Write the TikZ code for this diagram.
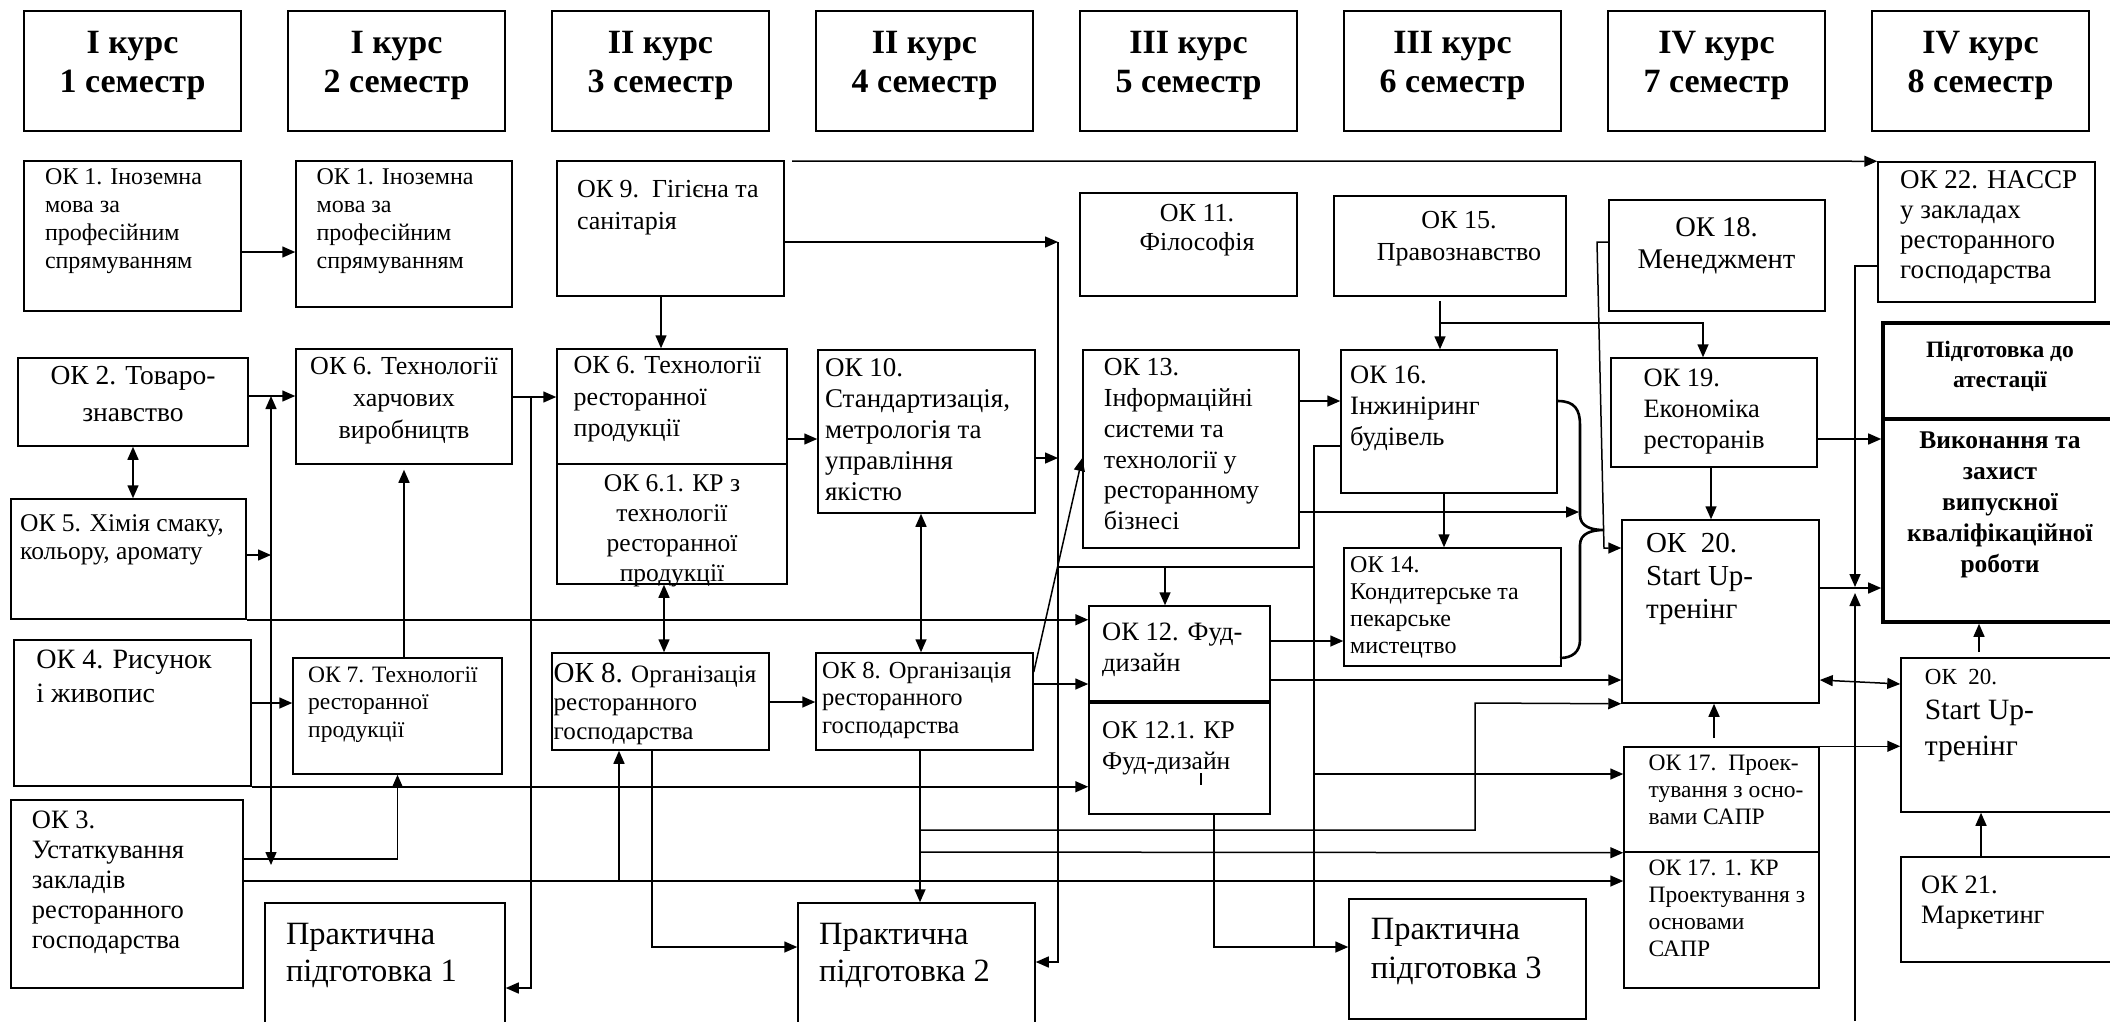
\documentclass[tikz,border=0pt]{standalone}
\usepackage{fontspec}
\setmainfont{Liberation Serif}
\usetikzlibrary{fit,arrows.meta,calc}
\newcommand\fz[2]{\fontsize{#1}{#2}\selectfont}
\begin{document}
\begin{tikzpicture}[x=1pt,y=-1pt,
 box/.style={draw,line width=1.5pt,inner sep=0pt},
 vkr/.style={draw,line width=3.6pt,inner sep=0pt},
 ln/.style={line width=1.5pt},
 arr/.style={line width=1.5pt,-{Triangle[length=13pt,width=11pt]}},
 darr/.style={line width=1.5pt,{Triangle[length=13pt,width=11pt]}-{Triangle[length=13pt,width=11pt]}},
 tx/.style={inner sep=0pt,align=left,anchor=north west},
 txc/.style={inner sep=0pt,align=center,anchor=north},
 hdr/.style={inner sep=0pt,align=center,font=\bfseries\fz{34}{39}},
 bt/.style={inner sep=0pt,align=center}]
\useasboundingbox[fill=white] (0,0) rectangle (2110,1021);

% headers
\node[box,fit={(24,11)(241,131)}] (h1) {};
\node[box,fit={(288,11)(505,131)}] (h2) {};
\node[box,fit={(552,11)(769,131)}] (h3) {};
\node[box,fit={(816,11)(1033,131)}] (h4) {};
\node[box,fit={(1080,11)(1297,131)}] (h5) {};
\node[box,fit={(1344,11)(1561,131)}] (h6) {};
\node[box,fit={(1608,11)(1825,131)}] (h7) {};
\node[box,fit={(1872,11)(2089,131)}] (h8) {};
\node[hdr] (h1t) at ([yshift=6pt]h1.center) {І курс\\1 семестр};
\node[hdr] (h2t) at ([yshift=6pt]h2.center) {І курс\\2 семестр};
\node[hdr] (h3t) at ([yshift=6pt]h3.center) {ІІ курс\\3 семестр};
\node[hdr] (h4t) at ([yshift=6pt]h4.center) {ІІ курс\\4 семестр};
\node[hdr] (h5t) at ([yshift=6pt]h5.center) {ІІІ курс\\5 семестр};
\node[hdr] (h6t) at ([yshift=6pt]h6.center) {ІІІ курс\\6 семестр};
\node[hdr] (h7t) at ([yshift=6pt]h7.center) {IV курс\\7 семестр};
\node[hdr] (h8t) at ([yshift=6pt]h8.center) {IV курс\\8 семестр};

% boxes
\node[box,fit={(24,161)(241,311)}] (ok1a) {};
\node[box,fit={(296,161)(512,307)}] (ok1b) {};
\node[box,fit={(557,161)(784,296)}] (ok9) {};
\node[box,fit={(1080,193)(1297,296)}] (ok11) {};
\node[box,fit={(1334,196)(1566,296)}] (ok15) {};
\node[box,fit={(1609,200)(1825,311)}] (ok18) {};
\node[box,fit={(1878,162)(2095,302)}] (ok22) {};
\node[box,fit={(18,358)(248,446)}] (ok2) {};
\node[box,fit={(296,349)(512,464)}] (ok6b) {};
\node[box,fit={(557,349)(787,464)}] (ok6c) {};
\node[box,fit={(557,464)(787,584)}] (ok61) {};
\node[box,fit={(818,350)(1035,513)}] (ok10) {};
\node[box,fit={(1083,350)(1299,548)}] (ok13) {};
\node[box,fit={(1341,350)(1557,493)}] (ok16) {};
\node[box,fit={(1611,358)(1817,467)}] (ok19) {};
\node[vkr,fit={(1883,323)(2125,419)}] (vkra) {};
\node[vkr,fit={(1883,419)(2125,622)}] (vkrb) {};
\node[box,fit={(11,499)(246,619)}] (ok5) {};
\node[box,fit={(1344,548)(1561,666)}] (ok14) {};
\node[box,fit={(1622,520)(1819,703)}] (ok20) {};
\node[box,fit={(1089,606)(1270,701)}] (ok12) {};
\node[box,fit={(1089,703)(1270,814)}] (ok121) {};
\node[box,fit={(14,640)(251,786)}] (ok4) {};
\node[box,fit={(293,658)(502,774)}] (ok7) {};
\node[box,fit={(552,653)(769,750)}] (ok8a) {};
\node[box,fit={(816,653)(1033,750)}] (ok8b) {};
\node[box,fit={(1901,658)(2125,812)}] (ok20b) {};
\node[box,fit={(1624,747)(1819,852)}] (ok17) {};
\node[box,fit={(1624,852)(1819,988)}] (ok171) {};
\node[box,fit={(11,800)(243,988)}] (ok3) {};
\node[box,fit={(265,903)(505,1040)}] (pp1) {};
\node[box,fit={(798,903)(1035,1040)}] (pp2) {};
\node[box,fit={(1349,899)(1586,1019)}] (pp3) {};
\node[box,fit={(1901,857)(2125,962)}] (ok21) {};

% texts
\node[tx,font=\fz{24}{28}] (t1a) at (44.8,168) {ОК 1. Іноземна\\мова за\\професійним\\спрямуванням};
\node[tx,font=\fz{24}{28}] (t1b) at (316.4,168) {ОК 1. Іноземна\\мова за\\професійним\\спрямуванням};
\node[tx,font=\fz{26}{32.4}] (t9) at (576.8,180) {ОК 9.\ \ Гігієна та\\санітарія};
\node[txc,font=\fz{26}{29}] (t11) at (1197,204) {ОК 11.\\Філософія};
\node[txc,font=\fz{26}{31.7}] (t15) at (1459,211) {ОК 15.\\Правознавство};
\node[txc,font=\fz{28.5}{32.3}] (t18) at (1716.5,217.5) {ОК 18.\\Менеджмент};
\node[tx,font=\fz{27}{30}] (t22) at (1900,170.5) {ОК 22. HACCP\\у закладах\\ресторанного\\господарства};
\node[txc,font=\fz{27.5}{36.6}] (t2) at (133,366.5) {ОК 2. Товаро-\\знавство};
\node[txc,font=\fz{26}{31.7}] (t6b) at (404,357.5) {ОК 6. Технології\\харчових\\виробництв};
\node[tx,font=\fz{26}{31.5}] (t6c) at (573.4,356.5) {ОК 6. Технології\\ресторанної\\продукції};
\node[txc,font=\fz{25.5}{30}] (t61) at (672,474) {ОК 6.1. КР з\\технології\\ресторанної\\продукції};
\node[tx,font=\fz{27}{31}] (t10) at (824.8,358.5) {ОК 10.\\Стандартизація,\\метрологія та\\управління\\якістю};
\node[tx,font=\fz{26}{30.7}] (t13) at (1103.7,358.5) {ОК 13.\\Інформаційні\\системи та\\технології у\\ресторанному\\бізнесі};
\node[tx,font=\fz{26.5}{31}] (t16) at (1350,366) {ОК 16.\\Інжиніринг\\будівель};
\node[tx,font=\fz{26.5}{31}] (t19) at (1643.3,369) {ОК 19.\\Економіка\\ресторанів};
\node[bt,font=\bfseries\fz{23.5}{30}] (tva) at (2000,366.7) {Підготовка до\\атестації};
\node[bt,font=\bfseries\fz{25.5}{31}] (tvb) at (2000,505) {Виконання та\\захист\\випускної\\кваліфікаційної\\роботи};
\node[tx,font=\fz{25.5}{28.7}] (t5) at (20,514) {ОК 5. Хімія смаку,\\кольору, аромату};
\node[tx,font=\fz{24}{27}] (t14) at (1350,556.5) {ОК 14.\\Кондитерське та\\пекарське\\мистецтво};
\node[tx,font=\fz{29}{33}] (t20) at (1645.8,533) {ОК\ \ 20.\\Start Up-\\тренінг};
\node[tx,font=\fz{26.5}{31.6}] (t12) at (1102,622.5) {ОК 12. Фуд-\\дизайн};
\node[tx,font=\fz{25.5}{31.7}] (t121) at (1102,721) {ОК 12.1. КР\\Фуд-дизайн};
\node[tx,font=\fz{28}{33.3}] (t4) at (36.2,650) {ОК 4. Рисунок\\і живопис};
\node[tx,font=\fz{23.5}{27.5}] (t7) at (308,666.5) {ОК 7. Технології\\ресторанної\\продукції};
\node[tx,font=\fz{25}{28.5}] (t8a) at (553.4,663) {{\fz{29}{28.5}ОК 8.} Організація\\ресторанного\\господарства};
\node[tx,font=\fz{24.5}{27.5}] (t8b) at (822,661.5) {ОК 8. Організація\\ресторанного\\господарства};
\node[tx,font=\fz{23}{22}] (t20ba) at (1924.7,668.5) {ОК\ \ 20.};
\node[tx,font=\fz{29.5}{36.7}] (t20bb) at (1924.7,699.5) {Start Up-\\тренінг};
\node[tx,font=\fz{23.5}{27}] (t17) at (1648.5,755) {ОК 17.\ \ Проек-\\тування з осно-\\вами САПР};
\node[tx,font=\fz{23.5}{27}] (t171) at (1648.5,859.5) {ОК 17. 1. КР\\Проектування з\\основами\\САПР};
\node[tx,font=\fz{26.5}{30}] (t3) at (31.7,810.5) {ОК 3.\\Устаткування\\закладів\\ресторанного\\господарства};
\node[tx,font=\fz{32.5}{36.7}] (tp1) at (285.8,923.5) {Практична\\підготовка 1};
\node[tx,font=\fz{32.5}{36.7}] (tp2) at (819,923.5) {Практична\\підготовка 2};
\node[tx,font=\fz{32.5}{38.3}] (tp3) at (1370.6,918.5) {Практична\\підготовка 3};
\node[tx,font=\fz{26.5}{30}] (t21) at (1921,875.5) {ОК 21.\\Маркетинг};

% junction coordinates
\coordinate (v1t) at (271,396);
\coordinate (v1b) at (271,865);
\coordinate (v2t) at (531,397);
\coordinate (v3t) at (1058,242);
\coordinate (tl) at (792,161);
\coordinate (j3) at (619,881);
\coordinate (b830) at (920,830);
\coordinate (b852) at (920,852);
\coordinate (s1475) at (1475,703);
\coordinate (j947) at (1314,947);
\coordinate (j774) at (1314,774);
\coordinate (brx) at (1579,512);
\coordinate (j567) at (1314,567);
\coordinate (d567) at (1165,567);
\coordinate (b15) at (1440,323);
\coordinate (o18a) at (1597,242);
\coordinate (o18b) at (1604,548);
\coordinate (d22) at (1855,587);
\coordinate (u22) at (1855,593);
\coordinate (bot) at (1855,1021);

% connectors
\draw[arr] (ok1a.east |- 0,252) -- (ok1b.west |- 0,252);
\draw[arr] (ok2.east |- 0,396) -- (ok6b.west |- 0,396);
\draw[darr] (v1b) -- (v1t);
\draw[arr] (ok5.east |- 0,555) -- (v1t |- 0,555);
\draw[darr] (ok2.south) -- (ok2.south |- ok5.north);
\draw[arr] (ok5.south east) -- (ok12.west |- ok5.south east);
\draw[arr] (ok4.east |- 0,703) -- (ok7.west |- 0,703);
\draw[arr] (ok4.south east) -- (ok121.west |- ok4.south east);
\draw[arr,shorten >=5pt] (ok6b.south |- ok7.north) -- (ok6b.south);
\draw[arr] (ok3.east |- 0,859) -| (ok7.south);
\draw[arr] (ok3.east |- 0,881) -- (ok171.west |- 0,881);
\draw[arr] (j3) -- (j3 |- ok8a.south);
\draw[arr] (ok6b.east |- 0,397) -- (ok6c.west |- 0,397);
\draw[arr] (v2t) |- (pp1.north east |- 0,988);
\draw[arr] (661,0 |- ok9.south) -- (661,0 |- ok6c.north);
\draw[arr] (ok9.east |- v3t) -- (v3t);
\draw[arr] (v3t) |- (pp2.north east |- 0,962);
\draw[arr] (tl) -- (ok22.north west);
\draw[arr] (ok6c.east |- 0,439) -- (ok10.west |- 0,439);
\draw[arr] (ok10.east |- 0,458) -- (v3t |- 0,458);
\draw[darr] (664,0 |- ok61.south) -- (664,0 |- ok8a.north);
\draw[darr] (921,0 |- ok10.south) -- (921,0 |- ok8b.north);
\draw[arr] (ok8a.east |- 0,702) -- (ok8b.west |- 0,702);
\draw[arr] (ok8b.east |- 0,672) -- (ok13.west |- 0,458);
\draw[arr] (ok8b.east |- 0,684) -- (ok12.west |- 0,684);
\draw[arr] (652,0 |- ok8a.south) |- (pp2.west |- 0,947);
\draw[arr] (920,0 |- ok8b.south) -- (920,0 |- pp2.north);
\draw[arr] (b852) -- (ok17.south west);
\draw[arr] (b830) -| (s1475) -- (ok20.south west);
\draw[arr] (ok13.east |- 0,401) -- (ok16.west |- 0,401);
\draw[arr] (ok13.east |- 0,512) -- (brx);
\draw[arr] (1444,0 |- ok16.south) -- (1444,0 |- ok14.north);
\draw[arr,shorten <=4pt] (1440,0 |- ok15.south) -- (1440,0 |- ok16.north);
\draw[arr] (b15) -| (1703,0 |- ok19.north);
\draw[ln] (ok16.west |- 0,446) -| (j947);
\draw[arr] (1214,0 |- ok121.south) |- (pp3.west |- j947);
\draw[arr] (j774) -- (ok17.west |- j774);
\draw[ln] (v3t |- j567) -- (j567);
\draw[arr] (d567) -- (d567 |- ok12.north);
\draw[arr] (ok12.east |- 0,641) -- (ok14.west |- 0,641);
\draw[arr] (ok12.east |- 0,680) -- (ok20.west |- 0,680);
\draw[line width=2.6pt] (ok16.east |- 0,401) .. controls (1575,401) and (1580,410) .. (1580,425) -- (1580,515) .. controls (1580,527) and (1592,530) .. (1604,530) .. controls (1592,530) and (1580,533) .. (1580,545) -- (1580,640) .. controls (1580,652) and (1572,658) .. (1560,658);
\draw[arr] (ok18.west |- o18a) -- (o18a) -- (o18b) -- (ok20.west |- o18b);
\draw[arr] (ok19.east |- 0,439) -- (vkrb.west |- 0,439);
\draw[arr] (1711,0 |- ok19.south) -- (1711,0 |- ok20.north);
\draw[arr] (ok22.west |- 0,266) -| (d22);
\draw[arr] (bot) -- (u22);
\draw[arr] (ok20.east |- 0,588) -- (vkrb.west |- 0,588);
\draw[darr] (ok20.east |- 0,680) -- (ok20b.west |- 0,684);
\draw[arr] (1714,738) -- (1714,0 |- ok20.south);
\draw[arr] (ok17.north east) -- (ok20b.west |- ok17.north east);
\draw[arr] (1979,652) -- (1979,0 |- vkrb.south);
\draw[arr] (1981,0 |- ok21.north) -- (1981,0 |- ok20b.south);
\draw[line width=1.2pt] (1201,773) -- (1201,785);
\end{tikzpicture}
\end{document}
